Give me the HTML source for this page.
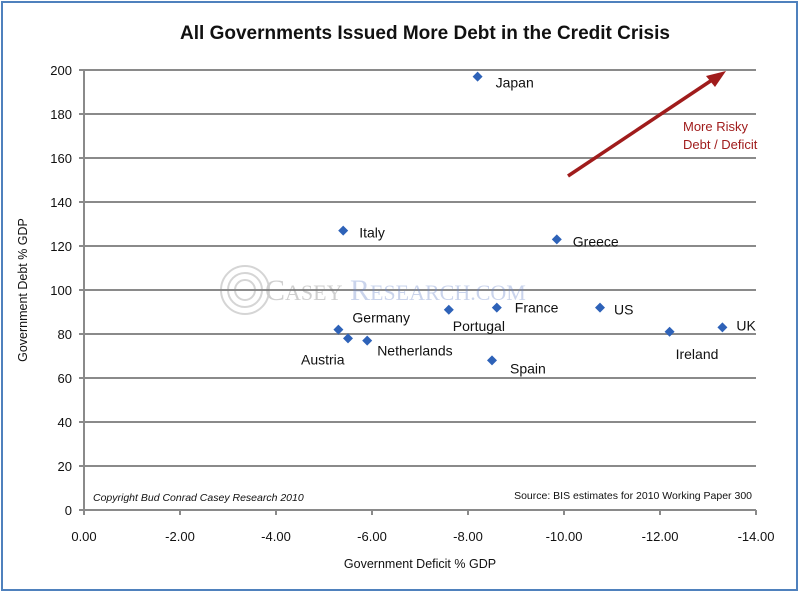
<!DOCTYPE html>
<html><head><meta charset="utf-8"><style>
body{margin:0;background:#fff;}
svg{display:block;font-family:"Liberation Sans",sans-serif;}
</style></head><body>
<svg id="chart" width="800" height="593" viewBox="0 0 800 593">
<rect x="2" y="2" width="795" height="588" fill="#fff" stroke="#4f81bd" stroke-width="2"/>
<text x="425" y="39" text-anchor="middle" font-size="19" font-weight="bold" fill="#111">All Governments Issued More Debt in the Credit Crisis</text>
<g id="grid"></g>
<g opacity="0.35">
<circle cx="245" cy="290" r="24" fill="none" stroke="#888" stroke-width="2"/>
<circle cx="245" cy="290" r="17" fill="none" stroke="#888" stroke-width="2"/>
<circle cx="245" cy="290" r="10" fill="none" stroke="#888" stroke-width="2"/>
<text x="265" y="300" font-family="Liberation Serif,serif" font-size="30" fill="#777">C<tspan font-size="22">ASEY</tspan> <tspan fill="#6b86c9" font-size="30">R</tspan><tspan fill="#6b86c9" font-size="22">ESEARCH.COM</tspan></text>
</g>
<g id="marks"></g>
<path d="M568,176 L718,76" stroke="#a01c1c" stroke-width="3.5" fill="none"/>
<polygon points="726,71 706,76 715,87" fill="#a01c1c"/>
<text x="683" y="131" font-size="13" fill="#a01c1c">More Risky</text>
<text x="683" y="149" font-size="13" fill="#a01c1c">Debt / Deficit</text>
<text x="93" y="501" font-size="10.5" font-style="italic" fill="#111">Copyright Bud Conrad Casey Research 2010</text>
<text x="752" y="499" text-anchor="end" font-size="10.5" fill="#111">Source: BIS estimates for 2010  Working Paper 300</text>
<text x="420" y="568" text-anchor="middle" font-size="12.5" fill="#111">Government Deficit % GDP</text>
<text transform="translate(27,290) rotate(-90)" text-anchor="middle" font-size="12.5" fill="#111">Government Debt % GDP</text>
</svg>
<script>
const countries=["Japan","Italy","Greece","US","France","Portugal","Germany","Austria","Netherlands","Spain","Ireland","UK"];
const deficits=[-8.2,-5.4,-9.85,-10.75,-8.6,-7.6,-5.3,-5.5,-5.9,-8.5,-12.2,-13.3];
const debts=[197,127,123,92,92,91,82,78,77,68,81,83];
const xTicks=[0,-2,-4,-6,-8,-10,-12,-14];
const yTicks=[0,20,40,60,80,100,120,140,160,180,200];
const labelOffsets={Japan:[18,6],Italy:[16,2],Greece:[16,2],US:[14,2],France:[18,0],Portugal:[4,16],Germany:[14,-12],Austria:[-47,21],Netherlands:[10,10],Spain:[18,8],Ireland:[6,22],UK:[14,-2]};
const NS="http://www.w3.org/2000/svg";
const L=84,R=756,T=70,B=510;
const xs=v=>L+(v/-14)*(R-L);
const ys=v=>B-(v/200)*(B-T);
const grid=document.getElementById('grid'),marks=document.getElementById('marks');
function mk(tag,attrs,parent,txt){const e=document.createElementNS(NS,tag);for(const k in attrs)e.setAttribute(k,attrs[k]);if(txt!=null)e.textContent=txt;parent.appendChild(e);return e;}
yTicks.forEach(t=>{
  const ln=mk('line',{x1:L-5,x2:R,y1:ys(t),y2:ys(t),stroke:'#8a8a8a','stroke-width':2},grid);
  
  
  const tx=mk('text',{x:L-12,y:ys(t)+5,'text-anchor':'end','font-size':13,fill:'#111'},grid,t);
  
  
});
const ax=mk('line',{x1:L,x2:L,y1:T,y2:B+5,stroke:'#8a8a8a','stroke-width':2},grid);


xTicks.forEach(t=>{
  const tk=mk('line',{x1:xs(t),x2:xs(t),y1:B,y2:B+5,stroke:'#8a8a8a','stroke-width':2},grid);
  
  
  const tx=mk('text',{x:xs(t),y:B+31,'text-anchor':'middle','font-size':13,fill:'#111'},grid,t===0?'0.00':t.toFixed(2));
  
  
});
countries.forEach((c,i)=>{
  const x=xs(deficits[i]),y=ys(debts[i]);
  const p=mk('polygon',{points:`${x},${y-5} ${x+5},${y} ${x},${y+5} ${x-5},${y}`,fill:'#2e62b8'},marks);
  
  
  const o=labelOffsets[c];
  const t=mk('text',{x:x+o[0],y:y+o[1]+5,'font-size':14,fill:'#111'},marks,c);
  
  
});
</script>
</body></html>
